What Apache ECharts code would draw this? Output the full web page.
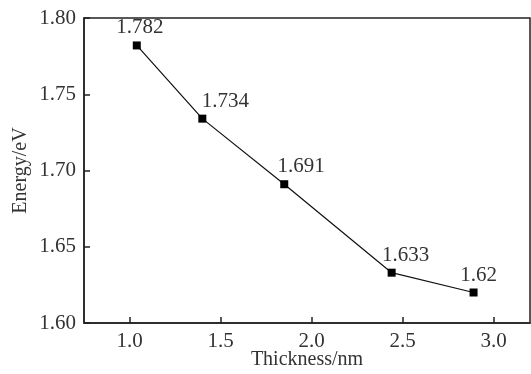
<!DOCTYPE html>
<html>
<head>
<meta charset="utf-8">
<script src="https://cdn.jsdelivr.net/npm/echarts@6/dist/echarts.min.js"></script>
<style>
  html, body { margin: 0; padding: 0; background: #fff; }
  #main { width: 531px; height: 374px; }
</style>
</head>
<body>
<div id="main"></div>
<script>
    // thickness (nm) vs band energy (eV)
    var thickness = [1.04, 1.40, 1.85, 2.44, 2.89];
    var energy = [1.782, 1.734, 1.691, 1.633, 1.62];
    var energyLabels = ['1.782', '1.734', '1.691', '1.633', '1.62'];
    var xTicks = [1.0, 1.5, 2.0, 2.5, 3.0];
    var yTicks = [1.60, 1.65, 1.70, 1.75, 1.80];

    // horizontal shift of each value label (px)
    var labelShift = [3, 23, 17, 14, 5];

    var font = '"Liberation Serif", "Times New Roman", serif';
    var myChart = echarts.init(document.getElementById('main'));

    var points = [];
    for (var i = 0; i < thickness.length; i++) {
        points.push({
            value: [thickness[i], energy[i]],
            label: { offset: [labelShift[i], 0] }
        });
    }

    var option = {
        animation: false,
        grid: {
            left: 84,
            right: 1,
            top: 18,
            bottom: 51,
            outerBoundsMode: 'none',
            show: true,
            borderColor: '#222',
            borderWidth: 1.5
        },
        xAxis: {
            type: 'value',
            min: 0.75,
            max: 3.2,
            name: 'Thickness/nm',
            nameLocation: 'middle',
            nameMoveOverlap: false,
            nameGap: 27,
            nameTextStyle: { fontFamily: font, fontSize: 20, color: '#333' },
            axisLine: { lineStyle: { color: '#222', width: 1.5 } },
            axisTick: { inside: true, length: 6, customValues: xTicks, lineStyle: { color: '#222', width: 1.5 } },
            axisLabel: {
                customValues: xTicks,
                formatter: function (v) { return v.toFixed(1); },
                fontFamily: font, fontSize: 21, color: '#333', margin: 8
            },
            splitLine: { show: false }
        },
        yAxis: {
            type: 'value',
            min: 1.60,
            max: 1.80,
            name: 'Energy/eV',
            nameLocation: 'middle',
            nameMoveOverlap: false,
            nameGap: 53,
            nameTextStyle: { fontFamily: font, fontSize: 20, color: '#333' },
            axisLine: { lineStyle: { color: '#222', width: 1.5 } },
            axisTick: { inside: true, length: 6, customValues: yTicks, lineStyle: { color: '#222', width: 1.5 } },
            axisLabel: {
                customValues: yTicks,
                formatter: function (v) { return v.toFixed(2); },
                fontFamily: font, fontSize: 21, color: '#333', margin: 8
            },
            splitLine: { show: false }
        },
        series: [{
            type: 'line',
            data: points,
            symbol: 'rect',
            symbolSize: 8,
            itemStyle: { color: '#000' },
            lineStyle: { color: '#111', width: 1.2 },
            label: {
                show: true,
                position: 'top',
                distance: 3,
                formatter: function (p) { return energyLabels[p.dataIndex]; },
                fontFamily: font,
                fontSize: 21,
                color: '#333'
            }
        }]
    };

    myChart.setOption(option);
</script>
</body>
</html>
